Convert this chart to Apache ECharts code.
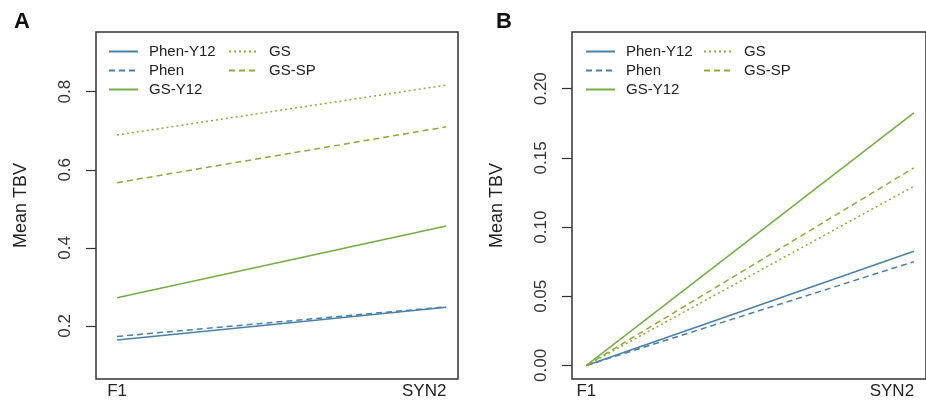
<!DOCTYPE html>
<html>
<head>
<meta charset="utf-8">
<script src="https://cdn.jsdelivr.net/npm/echarts@6/dist/echarts.min.js"></script>
<style>
  html, body { margin: 0; padding: 0; background: #fff; }
  #chart { width: 926px; height: 402px; }
</style>
</head>
<body>
<div id="chart"></div>
<script>
// x positions: F1 = 1, SYN2 = 2
const stages = ['F1', 'SYN2'];
const names = ['Phen-Y12', 'Phen', 'GS-Y12', 'GS', 'GS-SP'];

// panel A values (F1, SYN2)
const phenY12A = [0.164, 0.248];
const phenA = [0.173, 0.249];
const gsY12A = [0.272, 0.456];
const gsA = [0.689, 0.817];
const gsSpA = [0.567, 0.710];

// panel B values (F1, SYN2)
const phenY12B = [0, 0.0825];
const phenB = [0, 0.075];
const gsY12B = [0, 0.1826];
const gsB = [0, 0.1295];
const gsSpB = [0, 0.1428];

const yTicksA = [0.2, 0.4, 0.6, 0.8];
const yTicksB = [0, 0.05, 0.10, 0.15, 0.20];

const FONT = '"Liberation Sans", Arial, sans-serif';
const BLUE = '#4a80aa';
const GREEN = '#74ad46';
const OLIVE = '#8dab3c';

const styles = {
  'Phen-Y12': { color: BLUE, type: 'solid' },
  'Phen': { color: BLUE, type: [6, 4] },
  'GS-Y12': { color: GREEN, type: 'solid' },
  'GS': { color: OLIVE, type: [2, 3] },
  'GS-SP': { color: OLIVE, type: [6, 4] }
};

function makeSeries(name, vals, idx) {
  const st = styles[name];
  return {
    name: name,
    type: 'line',
    xAxisIndex: idx,
    yAxisIndex: idx,
    symbol: 'none',
    silent: true,
    animation: false,
    lineStyle: { color: st.color, width: 1.5, type: st.type },
    itemStyle: { color: st.color },
    data: vals.map((v, i) => [i + 1, v])
  };
}

function xAxis(idx, min, max) {
  return {
    type: 'value',
    gridIndex: idx,
    min: min,
    max: max,
    axisLine: { show: false },
    axisTick: { show: false },
    splitLine: { show: false },
    axisLabel: {
      customValues: [1, 2],
      margin: 4,
      fontSize: 17,
      fontFamily: FONT,
      color: '#222',
      formatter: v => v === 2 ? '{r|' + stages[1] + '}' : stages[0],
      rich: { r: { fontSize: 17, fontFamily: FONT, color: '#222', padding: [0, 44, 0, 0] } }
    }
  };
}

function yAxis(idx, min, max, ticks, digits) {
  return {
    type: 'value',
    gridIndex: idx,
    min: min,
    max: max,
    name: 'Mean TBV',
    nameLocation: 'middle',
    nameRotate: 90,
    nameGap: 66,
    nameTextStyle: { fontSize: 18, fontFamily: FONT, color: '#222' },
    axisLine: { show: false },
    splitLine: { show: false },
    axisTick: { customValues: ticks, length: 10, inside: false, lineStyle: { color: '#333', width: 1.2 } },
    axisLabel: {
      customValues: ticks,
      rotate: 90,
      margin: 22,
      fontSize: 17,
      fontFamily: FONT,
      color: '#333',
      formatter: v => v.toFixed(digits)
    }
  };
}

function legend(left, data) {
  return {
    left: left,
    top: 44,
    orient: 'vertical',
    padding: 0,
    itemWidth: 29,
    itemHeight: 14,
    itemGap: 4,
    selectedMode: false,
    data: data,
    itemStyle: { opacity: 0 },
    textStyle: { fontSize: 15, fontFamily: FONT, color: '#222', lineHeight: 14, padding: [0, 0, 0, 6] }
  };
}

const chart = echarts.init(document.getElementById('chart'), null, { renderer: 'canvas' });
chart.setOption({
  backgroundColor: '#fff',
  animation: false,
  title: [
    { text: 'A', left: 9, top: 6, textStyle: { fontSize: 22, fontWeight: 'bold', fontFamily: FONT, color: '#111' } },
    { text: 'B', left: 491, top: 6, textStyle: { fontSize: 22, fontWeight: 'bold', fontFamily: FONT, color: '#111' } }
  ],
  legend: [
    legend(108, names.slice(0, 3)),
    legend(228, names.slice(3)),
    legend(585, names.slice(0, 3)),
    legend(703, names.slice(3))
  ],
  grid: [
    { left: 96, top: 32, width: 362, height: 347, show: true, borderColor: '#333', borderWidth: 1.5 },
    { left: 572, top: 32, width: 362, height: 347, show: true, borderColor: '#333', borderWidth: 1.5 }
  ],
  xAxis: [xAxis(0, 0.936, 2.036), xAxis(1, 0.956, 2.037)],
  yAxis: [yAxis(0, 0.064, 0.953, yTicksA, 1), yAxis(1, -0.0098, 0.241, yTicksB, 2)],
  series: [
    makeSeries('Phen-Y12', phenY12A, 0),
    makeSeries('Phen', phenA, 0),
    makeSeries('GS-Y12', gsY12A, 0),
    makeSeries('GS', gsA, 0),
    makeSeries('GS-SP', gsSpA, 0),
    makeSeries('Phen-Y12', phenY12B, 1),
    makeSeries('Phen', phenB, 1),
    makeSeries('GS-Y12', gsY12B, 1),
    makeSeries('GS', gsB, 1),
    makeSeries('GS-SP', gsSpB, 1)
  ]
});
</script>
</body>
</html>
